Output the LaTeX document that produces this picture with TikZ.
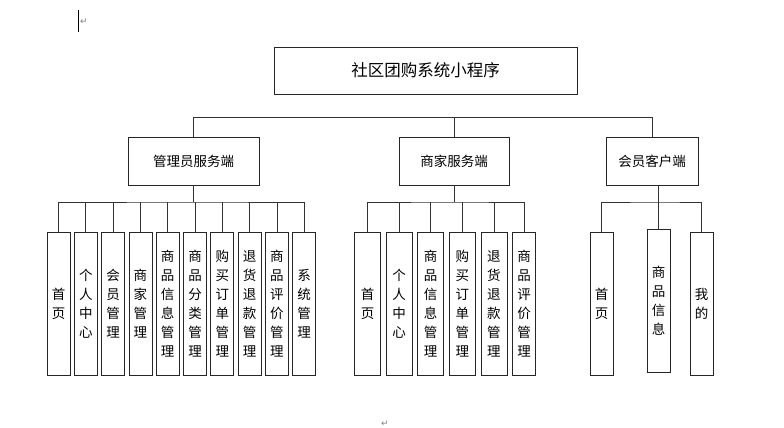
\documentclass[tikz,border=0pt]{standalone}
\usepackage{fontspec}
\setmainfont{Noto Sans CJK SC}
\newfontfamily\markfont{DejaVu Sans}
\usetikzlibrary{positioning}
\tikzset{
	sysbox/.style={
		rectangle, minimum width=303pt, minimum height=47pt,
		draw=black!85, line width=0.8pt, font=\fontsize{16.5}{19}\selectfont
	},
	%
	sidebox/.style={
		rectangle, minimum height=48pt,
		draw=black!85, line width=0.8pt, font=\fontsize{13.5}{15}\selectfont
	},
	%
	leafbox/.style={
		rectangle, minimum width=23pt, minimum height=143pt, inner sep=0pt,
		draw=black!85, line width=0.8pt, align=center, font=\fontsize{13.5}{19}\selectfont
	},
	%
	link/.style={
		draw=black!80, line width=0.8pt
	},
	%
	editmark/.style={
		text=black!50, inner sep=0pt, font=\markfont\fontsize{9}{9}\selectfont
	}
}
\begin{document}
\begin{tikzpicture}[x=1pt,y=-1pt]
    \useasboundingbox (0,0) rectangle (784,428);
    \node(sys)[sysbox] at (425.5,70.5){社区团购系统小程序};
    \node(admin)[sidebox, minimum width=131pt] at (193.5,161){管理员服务端};
    \node(shop)[sidebox, minimum width=110pt] at (454,161){商家服务端};
    \node(member)[sidebox, minimum width=92pt] at (652,161){会员客户端};
    \coordinate(top) at (0,117);
    \coordinate(bus) at (0,202);
    \draw[link] (admin.north) |- (member.north |- top) -- (member.north);
    \draw[link] (shop.north) -- (shop.north |- top);
    % admin side
    \node(a1)[leafbox] at (58.5,303.5){首\\页};
    \node(a2)[leafbox, right=3.5pt of a1]{个\\人\\中\\心};
    \node(a3)[leafbox, right=3.5pt of a2]{会\\员\\管\\理};
    \node(a4)[leafbox, right=3.5pt of a3]{商\\家\\管\\理};
    \node(a5)[leafbox, right=3.5pt of a4]{商\\品\\信\\息\\管\\理};
    \node(a6)[leafbox, right=3.5pt of a5]{商\\品\\分\\类\\管\\理};
    \node(a7)[leafbox, right=3.5pt of a6]{购\\买\\订\\单\\管\\理};
    \node(a8)[leafbox, right=3.5pt of a7]{退\\货\\退\\款\\管\\理};
    \node(a9)[leafbox, right=3.5pt of a8]{商\\品\\评\\价\\管\\理};
    \node(a10)[leafbox, right=3.5pt of a9]{系\\统\\管\\理};
    \draw[link] (admin.south) -- (admin.south |- bus);
    \draw[link] (a1.north) |- (admin.south |- bus) -| (a10.north);
    \foreach \i in {2,...,9}
        \draw[link] (a\i.north) -- (a\i.north |- bus);
    % shop side
    \node(b1)[leafbox, minimum width=26pt] at (367.5,303.5){首\\页};
    \node(b2)[leafbox, minimum width=26pt, right=4.8pt of b1]{个\\人\\中\\心};
    \node(b3)[leafbox, minimum width=26pt, right=4.8pt of b2]{商\\品\\信\\息\\管\\理};
    \node(b4)[leafbox, minimum width=26pt, right=4.8pt of b3]{购\\买\\订\\单\\管\\理};
    \node(b5)[leafbox, minimum width=26pt, right=4.8pt of b4]{退\\货\\退\\款\\管\\理};
    \node(b6)[leafbox, minimum width=23pt, right=4.8pt of b5]{商\\品\\评\\价\\管\\理};
    \draw[link] (shop.south) -- (shop.south |- bus);
    \draw[link] (b1.north) |- (shop.south |- bus) -| (b6.north);
    \foreach \i in {2,...,5}
        \draw[link] (b\i.north) -- (b\i.north |- bus);
    % member side
    \node(c1)[leafbox] at (601.5,304){首\\页};
    \node(c2)[leafbox] at (658.5,300.5){商\\品\\信\\息};
    \node(c3)[leafbox] at (701.5,304){我\\的};
    \draw[link] (c1.north) |- (c2.north |- bus) -| (c3.north);
    \draw[link] (c2.north) -- (c2.north |- member.south);
    % word marks
    \draw[line width=0.8pt] (78,10) -- (78,32);
    \node(mark1)[editmark] at (84,22){↵};
    \node(mark2)[editmark] at (385,424){↵};
\end{tikzpicture}
\end{document}
